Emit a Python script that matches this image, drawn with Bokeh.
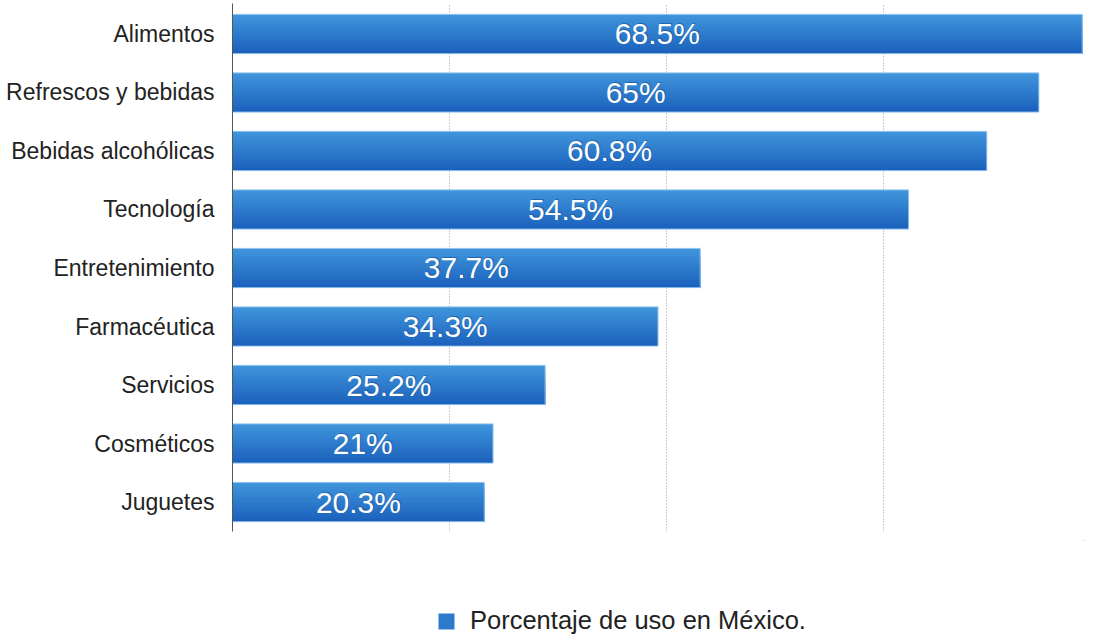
import numpy as np
import pandas as pd
from bokeh.plotting import figure
from bokeh.layouts import column
from bokeh.models import ColumnDataSource, FixedTicker, Range1d, Legend, LegendItem
from bokeh.core.properties import value
from bokeh.embed import file_html
from bokeh.resources import INLINE

categories = ["Alimentos", "Refrescos y bebidas", "Bebidas alcohólicas", "Tecnología",
              "Entretenimiento", "Farmacéutica", "Servicios", "Cosméticos", "Juguetes"]
values = [68.5, 65, 60.8, 54.5, 37.7, 34.3, 25.2, 21, 20.3]
bar_labels = ["68.5%", "65%", "60.8%", "54.5%", "37.7%", "34.3%", "25.2%", "21%", "20.3%"]
series_name = "Porcentaje de uso en México."
grid_ticks = [17.5, 35, 52.5]

FONT = "Liberation Sans"
n = len(categories)
ys = [n - i for i in range(n)]

p = figure(width=1085, height=540, output_backend="svg", toolbar_location=None,
           x_range=Range1d(0, 68.6), y_range=Range1d(0.496, 9.521),
           min_border_left=232, min_border_right=2, min_border_top=3, min_border_bottom=9)
p.outline_line_color = None
p.background_fill_color = "white"
p.border_fill_color = "white"

p.xaxis.visible = False
p.xgrid.ticker = FixedTicker(ticks=grid_ticks)
p.xgrid.grid_line_color = "#9a9a9a"
p.xgrid.grid_line_dash = "1 2"
p.xgrid.grid_line_width = 1
p.ygrid.grid_line_color = None

p.yaxis.ticker = FixedTicker(ticks=ys)
p.yaxis.major_label_overrides = {y: c for y, c in zip(ys, categories)}
p.yaxis.major_label_text_font = FONT
p.yaxis.major_label_text_font_size = "23px"
p.yaxis.major_label_text_color = "#222222"
p.yaxis.major_label_standoff = 18
p.yaxis.major_tick_line_color = None
p.yaxis.major_tick_out = 0
p.yaxis.major_tick_in = 0
p.yaxis.minor_tick_line_color = None
p.yaxis.axis_line_color = "#555555"

# gradient bars: overlapping strips, each from its top edge down to the bar bottom
h = 0.67
nstrips = 16
top = np.array([0x40, 0x96, 0xdc])
bot = np.array([0x1b, 0x60, 0xbc])
mid = "#2b7acb"
base = pd.DataFrame({"y": ys, "v": values})
bsrc = ColumnDataSource(base)
for k in range(nstrips):
    t = (k + 0.5) / nstrips
    c = top + (bot - top) * t
    col = "#%02x%02x%02x" % tuple(int(round(x)) for x in c)
    hk = h * (1 - k / nstrips)
    df = base.copy()
    df["yc"] = df["y"] - h / 2 + hk / 2
    p.hbar(y="yc", right="v", left=0, height=hk,
           source=ColumnDataSource(df), fill_color=col, line_color=None)
p.hbar(y="y", right="v", left=0, height=h, source=bsrc,
       fill_color=None, line_color="#8dc2ee", line_width=1)

lab = pd.DataFrame({"x": [v / 2 for v in values], "y": ys, "t": bar_labels})
lsrc = ColumnDataSource(lab)
p.text(x="x", y="y", text="t", source=lsrc, text_align="center", text_baseline="middle",
       text_color="#0a3a75", text_alpha=0.45, text_font=value(FONT),
       text_font_size="30px", x_offset=1, y_offset=-1)
p.text(x="x", y="y", text="t", source=lsrc, text_align="center", text_baseline="middle",
       text_color="white", text_font=value(FONT), text_font_size="30px")

# legend strip below the chart (its series renderer lies outside this strip's view)
lg = figure(width=1085, height=95, output_backend="svg", toolbar_location=None,
            x_range=Range1d(-100, -99), y_range=Range1d(-100, -99),
            min_border_left=232, min_border_right=2, min_border_top=0, min_border_bottom=0)
lg.axis.visible = False
lg.grid.visible = False
lg.outline_line_color = None
series_r = lg.hbar(y="y", right="v", left=0, height=0.5, source=bsrc,
                   fill_color=mid, line_color=None)
legend = Legend(items=[LegendItem(label=series_name, renderers=[series_r])],
                location=(204, 0), orientation="horizontal",
                glyph_width=20, glyph_height=20, label_height=20,
                label_text_font=FONT, label_text_font_size="25.5px",
                label_text_color="#222222", label_standoff=14,
                padding=0, margin=0, border_line_color=None,
                background_fill_alpha=0)
lg.add_layout(legend)

open("out.html", "w").write(file_html(column(p, lg, spacing=0), INLINE))
